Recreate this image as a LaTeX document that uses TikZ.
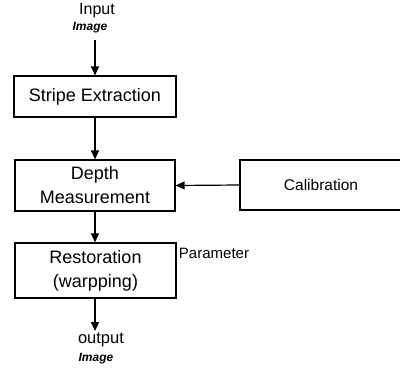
\documentclass[tikz,border=0pt]{standalone}
\usepackage{fontspec}
\setmainfont{Liberation Sans}
\usetikzlibrary{arrows.meta}
\begin{document}
\begin{tikzpicture}[x=1pt,y=-1pt,
  blk/.style={draw,line width=1.2pt,inner sep=0pt,align=center,font=\fontsize{18}{24}\selectfont},
  flow/.style={line width=1.2pt,-{Triangle[length=9pt,width=8pt]}},
  lbl/.style={inner sep=0pt,font=\fontsize{16}{18}\selectfont}]
\useasboundingbox (0,0) rectangle (400,370);
% processing chain
\node[blk,minimum width=162pt,minimum height=41pt] (stripe) at (95,96.5) {Stripe Extraction};
\node[blk,minimum width=160pt,minimum height=51pt] (depth) at (95,185.5) {Depth\\Measurement};
\node[blk,minimum width=161pt,minimum height=55pt] (rest) at (95.5,270.5) {Restoration\\(warpping)};
\node[blk,minimum width=162pt,minimum height=50pt,font=\fontsize{15.5}{18}\selectfont] (calib) at (321,185) {Calibration};
% input / output labels
\node[lbl] (inp) at (97,11) {Input};
\node[lbl,font=\bfseries\itshape\fontsize{12}{14}\selectfont] (inimg) at (90,28) {Image};
\node[lbl,font=\fontsize{16.5}{18}\selectfont] (outp) at (101,340) {output};
\node[lbl,font=\bfseries\itshape\fontsize{12}{14}\selectfont] (outimg) at (96,359) {Image};
\node[lbl,font=\fontsize{15}{18}\selectfont] (param) at (214,253) {Parameter};
% connectors
\coordinate (intop) at (95,40);
\coordinate (outend) at (95,331);
\draw[flow] (intop) -- (stripe.north);
\draw[flow] (stripe.south) -- (depth.north);
\draw[flow] (depth.south) -- (rest.north -| depth.south);
\draw[flow] (rest.south -| depth.south) -- (outend);
\draw[flow] (calib.west) -- (depth.east);
\end{tikzpicture}
\end{document}
